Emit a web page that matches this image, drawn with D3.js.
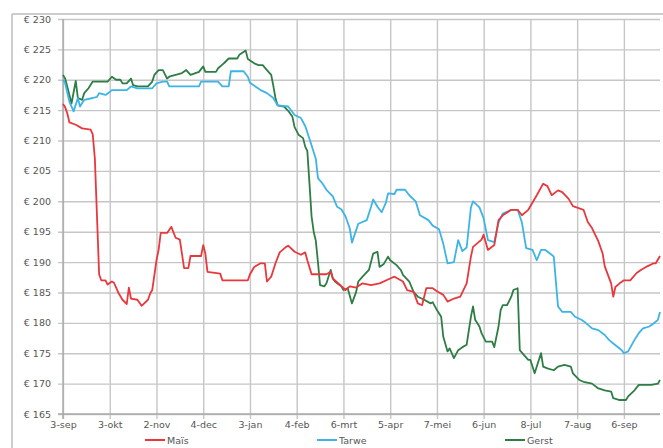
<!DOCTYPE html>
<html><head><meta charset="utf-8">
<script src="https://cdn.jsdelivr.net/npm/d3@7"></script>
<style>html,body{margin:0;padding:0;background:#fff;overflow:hidden}</style>
</head><body>
<svg id="c" width="663" height="448"></svg>
<script>
// Weekday index (0 = 3-sep, one step per trading day) and price in euro
const xTickLabels = ['3-sep','3-okt','2-nov','4-dec','3-jan','4-feb','6-mrt','5-apr','7-mei','6-jun','8-jul','7-aug','6-sep'];
const yTicks = [165,170,175,180,185,190,195,200,205,210,215,220,225,230];
const seriesNames = ['Maïs','Tarwe','Gerst'];

const mais = [[0,216],[1,215.5],[2,214.5],[3,213],[6,212.6],[9,212],[13,211.8],[14,211],[15,207],[17,188],[18,187],[20,187],[21,186.3],[23,186.8],[24,186.6],[26,185],[28,183.8],[30,183.1],[31,185.8],[32,184],[35,183.8],[37,182.8],[40,183.8],[41,184.8],[42,185.4],[44,190.3],[45,192],[46,194.8],[49,194.8],[51,195.8],[53,194],[55,193.7],[57,189],[59,189],[60,191],[65,191],[66,192.8],[67,191.4],[68,188.4],[74,188.1],[75,187],[87,187],[88,188],[90,189.2],[93,189.8],[95,189.8],[96,186.8],[98,187.6],[100,189.8],[102,191.6],[105,192.5],[106,192.7],[109,191.7],[112,191.2],[114,191.6],[115,190.3],[117,188],[124,188],[126,188.4],[127,187.3],[133,185.4],[135,186],[138,185.8],[141,186.5],[145,186.2],[149,186.5],[154,187.3],[156,187.6],[160,186.8],[162,185.4],[165,185.1],[167,183.2],[169,182.9],[171,185.7],[174,185.7],[176,185.2],[179,184.6],[181,183.5],[184,184],[187,184.3],[190,186.5],[192,190.9],[193,192.5],[197,193.7],[198,194.5],[200,192],[203,192.8],[205,196.9],[207,197.7],[211,198.6],[214,198.6],[216,197.7],[219,198.6],[223,201],[226,202.9],[228,202.5],[230,201],[233,201.8],[235,201.5],[238,200.4],[240,199.2],[245,198.6],[247,196.6],[249,195.6],[252,193.4],[254,191.4],[255,189.3],[258,186.5],[259,184.3],[260,185.9],[262,186.5],[264,187],[267,187],[270,188.2],[272,188.7],[275,189.3],[278,189.8],[279,189.8],[281,191]];

const tarwe = [[0,220],[1,219.4],[3,216.4],[5,214.8],[7,217],[8,215.6],[10,216.7],[14,217],[16,217.2],[17,217.8],[20,217.5],[22,218],[23,218.3],[30,218.3],[32,218.9],[35,218.6],[42,218.6],[44,219.4],[47,219.7],[49,219.7],[50,218.9],[64,218.9],[65,219.7],[73,219.7],[75,218.9],[78,218.9],[79,221.4],[85,221.4],[87,220.5],[88,219.5],[93,218.3],[96,217.8],[99,217],[101,215.8],[106,215.6],[109,214.2],[112,213.7],[114,212.4],[116,210.3],[119,207],[120,203.8],[122,203],[124,201.9],[127,200.8],[129,199.1],[131,198.7],[133,197.5],[135,195.5],[136,193.2],[139,196.3],[143,196.9],[145,199.1],[146,200.3],[148,199.1],[150,198.2],[152,199.8],[153,201.3],[156,201.2],[157,201.9],[161,201.9],[163,201],[166,200],[168,197.7],[172,196.9],[174,196],[177,195.4],[179,193],[181,189.8],[184,190],[186,193.6],[188,191.8],[190,192.4],[192,199],[193,200],[196,199],[198,197.2],[200,193.6],[203,193.3],[205,196.5],[207,198],[211,198.6],[214,198.6],[216,196.5],[218,192.3],[221,192],[223,190.3],[225,192],[227,192],[230,191.2],[231,190.9],[233,182.7],[235,181.8],[239,181.8],[241,181],[244,180.5],[246,180],[249,179.1],[252,178.8],[255,178],[257,177.2],[259,176.6],[263,175.5],[264,175],[266,175.3],[269,177.2],[271,178.3],[273,179.1],[276,179.4],[278,179.9],[280,180.5],[281,181.8]];

const gerst = [[0,220.8],[1,220.2],[2,218.9],[4,216.1],[6,219.8],[7,217],[9,216.7],[10,217.8],[12,218.6],[14,219.7],[21,219.7],[23,220.5],[25,220],[27,220],[28,219.4],[30,219.4],[32,220.2],[33,219.1],[35,218.9],[40,218.9],[42,219.7],[43,220.8],[45,221.6],[47,221.6],[49,220.2],[50,220.5],[56,221.1],[58,221.6],[60,220.8],[64,221.3],[66,222.2],[67,221.3],[72,221.3],[73,221.9],[75,222.5],[76,222.8],[78,223.5],[82,223.5],[83,224.1],[86,224.8],[87,223.4],[90,222.7],[92,222.4],[94,222.4],[96,221.6],[98,220.8],[99,219],[100,217],[101,215.8],[104,215.6],[106,214.9],[108,213.9],[109,212.2],[111,210.9],[113,210.4],[114,209],[115,208.3],[116,203],[117,197.5],[118,195],[119,193.5],[120,190],[121,186.2],[123,186],[124,186.5],[126,188.7],[127,187.3],[128,186.8],[131,186],[132,185.4],[134,185.7],[136,183.2],[138,185.1],[139,186.8],[141,187.6],[144,188.7],[146,191.4],[148,191.7],[149,189.2],[151,189.7],[153,190.9],[154,190.3],[157,189.5],[159,188.7],[160,187.9],[163,186.8],[165,185.1],[167,184.3],[170,183.8],[173,183.2],[174,183.4],[176,182.1],[178,181],[179,177.7],[181,175.3],[182,175.8],[184,174.2],[186,175.5],[188,176],[190,176.4],[192,181],[193,182.7],[194,180.5],[196,179.4],[197,178.3],[199,176.9],[202,176.9],[203,176],[205,179.4],[206,182.1],[207,182.9],[209,182.9],[211,184.3],[212,185.4],[214,185.7],[215,175.5],[217,174.7],[219,173.9],[220,173.9],[222,171.7],[223,172.8],[225,175],[226,172.8],[228,172.5],[231,172.2],[233,172.8],[236,173.1],[239,172.8],[240,171.7],[243,170.6],[245,170.3],[249,170],[252,169.2],[255,168.9],[258,168.7],[259,167.6],[262,167.3],[265,167.3],[266,167.9],[269,168.9],[271,169.8],[277,169.8],[280,170],[281,170.6]];

const colors = ['#e8383d','#3db4e6','#2e7d44'];
const stepPerTick = 22;
const lastIndex = 281;

const svg = d3.select('#c');
const pLeft = 63, pRight = 660, pTop = 19, pBottom = 414;
const x = d3.scaleLinear().domain([0, lastIndex]).range([pLeft, pRight]);
const y = d3.scaleLinear().domain([165, 230]).range([pBottom, pTop]);

// outer chart border (top & left visible)
svg.append('line').attr('x1',12).attr('x2',663).attr('y1',14).attr('y2',14).attr('stroke','#bdbdbd').attr('stroke-width',1.5);
svg.append('line').attr('x1',12).attr('x2',12).attr('y1',14).attr('y2',448).attr('stroke','#bdbdbd').attr('stroke-width',1.5);

// horizontal gridlines + y labels
const yAxis = d3.axisLeft(y).tickValues(yTicks).tickSize(-(pRight-pLeft)).tickPadding(12)
  .tickFormat(d => '€ ' + d);
const gy = svg.append('g').attr('transform',`translate(${pLeft},0)`).call(yAxis);
gy.select('.domain').remove();
gy.selectAll('.tick line').attr('stroke','#c6c6c6').attr('stroke-width',1.4).attr('x1',-5);
gy.selectAll('.tick text').attr('fill','#555').style('font-family','DejaVu Sans, Verdana, sans-serif').style('font-size','9.5px');

// vertical gridlines + x labels
const xTickVals = xTickLabels.map((d,i) => i*stepPerTick);
const xAxis = d3.axisBottom(x).tickValues(xTickVals).tickSize(0).tickPadding(7)
  .tickFormat((d,i) => xTickLabels[i]);
const gx = svg.append('g').attr('transform',`translate(0,${pBottom})`).call(xAxis);
gx.select('.domain').remove();
gx.selectAll('.tick line').attr('stroke','#c6c6c6').attr('stroke-width',1.4).attr('y1',5).attr('y2',-(pBottom-pTop));
gx.selectAll('.tick text').attr('fill','#555').style('font-family','DejaVu Sans, Verdana, sans-serif').style('font-size','9.5px');

// axis lines
svg.append('line').attr('x1',pLeft).attr('x2',pLeft).attr('y1',pTop).attr('y2',pBottom+5).attr('stroke','#a8a8a8').attr('stroke-width',1.4);
svg.append('line').attr('x1',pLeft-5).attr('x2',pRight).attr('y1',pBottom).attr('y2',pBottom).attr('stroke','#a8a8a8').attr('stroke-width',1.4);

const line = d3.line().x(d => x(d[0])).y(d => y(d[1]));
const data = [mais, tarwe, gerst];
[2,1,0].forEach(i => {
  svg.append('path').datum(data[i]).attr('d', line).attr('fill','none')
    .attr('stroke', colors[i]).attr('stroke-width',1.8).attr('stroke-linejoin','round');
});

// legend
const legendX = [145, 317, 505];
seriesNames.forEach((n,i) => {
  const g = svg.append('g').attr('transform',`translate(${legendX[i]},440)`);
  g.append('line').attr('x1',0).attr('x2',20).attr('y1',0).attr('y2',0).attr('stroke',colors[i]).attr('stroke-width',2);
  g.append('text').attr('x',22).attr('y',3.5).text(n).attr('fill','#555')
    .style('font-family','DejaVu Sans, Verdana, sans-serif').style('font-size','9.5px');
});
</script>
</body></html>
